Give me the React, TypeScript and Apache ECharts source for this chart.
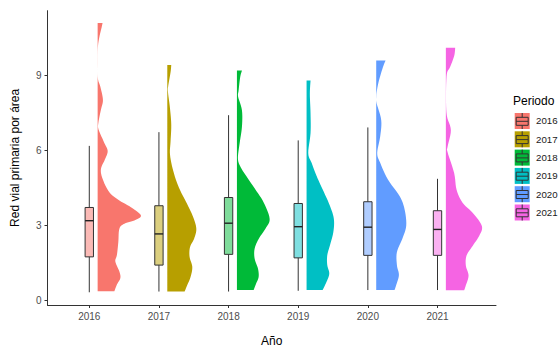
import React, { useEffect, useRef } from "react";
import * as echarts from "echarts";

// Categories and palette
const years = ["2016", "2017", "2018", "2019", "2020", "2021"];
const colors = ["#F8766D", "#B79F00", "#00BA38", "#00BFC4", "#619CFF", "#F564E3"];

// Five-number summaries: [lower whisker, Q1, median, Q3, upper whisker]
const box2016 = [0.31, 1.73, 3.18, 3.71, 6.18];
const box2017 = [0.34, 1.4, 2.65, 3.78, 6.73];
const box2018 = [0.34, 1.83, 3.08, 4.11, 7.41];
const box2019 = [0.37, 1.69, 2.94, 3.87, 6.4];
const box2020 = [0.4, 1.79, 2.92, 3.94, 6.92];
const box2021 = [0.4, 1.79, 2.83, 3.58, 4.86];

// Half-violin density profiles: [value, density as share of one category step]
const dens2016 = [
  [11.11, 0.071], [10.93, 0.057], [10.54, 0.024], [10.14, 0.004], [9.5, 0.001],
  [8.88, 0.004], [8.55, 0.039], [8.02, 0.076], [7.63, 0.047], [7.1, 0.01],
  [6.83, 0.014], [6.3, 0.096], [5.97, 0.144], [5.64, 0.105], [5.25, 0.047],
  [4.85, 0.072], [4.32, 0.168], [3.99, 0.312], [3.72, 0.478], [3.39, 0.622],
  [3.19, 0.527], [3.06, 0.384], [2.86, 0.312], [2.33, 0.297], [1.81, 0.277],
  [1.54, 0.254], [1.14, 0.312], [0.88, 0.326], [0.62, 0.277], [0.35, 0.24],
];
const dens2017 = [
  [9.42, 0.057], [9.13, 0.047], [8.6, 0.014], [8.34, 0.01], [7.68, 0.039],
  [7.02, 0.057], [6.36, 0.047], [5.83, 0.039], [5.17, 0.086], [4.5, 0.168],
  [3.84, 0.287], [3.31, 0.374], [2.85, 0.417], [2.45, 0.384], [2.12, 0.326],
  [1.73, 0.32], [1.33, 0.359], [0.93, 0.335], [0.6, 0.287], [0.34, 0.249],
];
const dens2018 = [
  [9.2, 0.072], [8.94, 0.047], [8.4, 0.024], [8.15, 0.017], [7.61, 0.072],
  [6.95, 0.072], [6.29, 0.039], [5.69, 0.014], [5.36, 0.047], [4.97, 0.134],
  [4.44, 0.263], [3.91, 0.384], [3.25, 0.47], [2.85, 0.407], [2.45, 0.312],
  [2.06, 0.254], [1.66, 0.254], [1.26, 0.302], [0.93, 0.312], [0.67, 0.277],
  [0.4, 0.24],
];
const dens2019 = [
  [8.8, 0.057], [8.27, 0.047], [7.48, 0.057], [6.69, 0.057], [5.89, 0.024],
  [5.5, 0.072], [4.97, 0.144], [4.44, 0.23], [3.78, 0.335], [3.25, 0.392],
  [2.72, 0.384], [2.19, 0.335], [1.79, 0.297], [1.4, 0.297], [1.06, 0.326],
  [0.73, 0.287], [0.4, 0.23],
];
const dens2020 = [
  [9.6, 0.134], [9.33, 0.096], [8.8, 0.039], [8.4, 0.01], [8.15, 0.002],
  [7.88, 0.007], [7.21, 0.072], [6.56, 0.057], [5.89, 0.014], [5.5, 0.057],
  [4.83, 0.168], [4.17, 0.335], [3.64, 0.407], [2.98, 0.431], [2.45, 0.374],
  [1.92, 0.297], [1.4, 0.297], [1.0, 0.326], [0.6, 0.287], [0.4, 0.263],
];
const dens2021 = [
  [10.11, 0.134], [9.78, 0.119], [9.32, 0.057], [9.06, 0.014], [8.2, 0.002],
  [7.4, 0.014], [6.81, 0.072], [6.14, 0.024], [5.93, 0.024], [5.09, 0.119],
  [4.42, 0.154], [3.9, 0.24], [3.5, 0.384], [2.97, 0.517], [2.57, 0.478],
  [2.17, 0.384], [1.78, 0.297], [1.38, 0.287], [0.98, 0.326], [0.59, 0.287],
  [0.39, 0.263],
];

// Y-axis tick values
const yTicks = [0, 3, 6, 9];

const boxes = [box2016, box2017, box2018, box2019, box2020, box2021];
const densities = [dens2016, dens2017, dens2018, dens2019, dens2020, dens2021];

const BOX_HALF = 0.06; // half box width, in category steps
const VIOLIN_OFFSET = 0.12; // gap between category centre and violin base
const FONT = "'Liberation Sans', Arial, sans-serif";

function withAlpha(hex: string, a: number) {
  const n = parseInt(hex.slice(1), 16);
  return `rgba(${(n >> 16) & 255},${(n >> 8) & 255},${n & 255},${a})`;
}

// Catmull-Rom smoothing of a pixel polyline, for drawing only
function smoothLine(pts: number[][], steps = 6) {
  if (pts.length < 3) return pts;
  const out: number[][] = [];
  for (let i = 0; i < pts.length - 1; i++) {
    const p0 = pts[Math.max(0, i - 1)];
    const p1 = pts[i];
    const p2 = pts[i + 1];
    const p3 = pts[Math.min(pts.length - 1, i + 2)];
    for (let s = 0; s < steps; s++) {
      const t = s / steps;
      const t2 = t * t;
      const t3 = t2 * t;
      const f = (a: number, b: number, c: number, d: number) =>
        0.5 * (2 * b + (-a + c) * t + (2 * a - 5 * b + 4 * c - d) * t2 + (-a + 3 * b - 3 * c + d) * t3);
      out.push([f(p0[0], p1[0], p2[0], p3[0]), f(p0[1], p1[1], p2[1], p3[1])]);
    }
  }
  out.push(pts[pts.length - 1]);
  return out;
}

export default function App() {
  const ref = useRef<HTMLDivElement>(null);

  useEffect(() => {
    if (!ref.current) return;
    const chart = echarts.init(ref.current, null, { renderer: "svg" });

    const legendGraphics: any[] = [
      {
        type: "text",
        left: 513,
        top: 95,
        style: { text: "Periodo", fill: "#000", font: `12px ${FONT}` },
      },
    ];
    years.forEach((y, i) => {
      const top = 113 + i * 18.3;
      legendGraphics.push({
        type: "group",
        x: 514.7,
        y: top,
        children: [
          { type: "rect", shape: { x: 0, y: 0, width: 15, height: 16 }, style: { fill: colors[i] } },
          { type: "line", shape: { x1: 7.5, y1: 0, x2: 7.5, y2: 4.3 }, style: { stroke: "#333", lineWidth: 1 } },
          { type: "line", shape: { x1: 7.5, y1: 12.3, x2: 7.5, y2: 16 }, style: { stroke: "#333", lineWidth: 1 } },
          { type: "rect", shape: { x: 1.5, y: 4.3, width: 12, height: 8 }, style: { fill: "none", stroke: "#333", lineWidth: 1 } },
          { type: "line", shape: { x1: 1.5, y1: 8.3, x2: 13.5, y2: 8.3 }, style: { stroke: "#333", lineWidth: 1 } },
        ],
      });
      legendGraphics.push({
        type: "text",
        left: 536,
        top: top + 2.8,
        style: { text: y, fill: "#1a1a1a", font: `9.7px ${FONT}` },
      });
    });

    chart.setOption({
      animation: false,
      grid: { left: 47.5, right: 62, top: 10.7, bottom: 43.7, containLabel: false },
      xAxis: {
        type: "value",
        min: -0.6,
        max: 5.84,
        name: "Año",
        nameLocation: "middle",
        nameGap: 30,
        nameTextStyle: { color: "#000", fontSize: 12, fontFamily: FONT },
        splitLine: { show: false },
        axisLine: { show: true, onZero: false, lineStyle: { color: "#333", width: 1 } },
        axisTick: { show: true, customValues: years.map((_, i) => i), length: 3, lineStyle: { color: "#333" } },
        axisLabel: {
          customValues: years.map((_, i) => i),
          formatter: (v: number) => years[Math.round(v)] ?? "",
          color: "#4D4D4D",
          fontSize: 10,
          fontFamily: FONT,
          margin: 6,
        },
      },
      yAxis: {
        type: "value",
        min: -0.2,
        max: 11.6,
        name: "Red vial primaria por área",
        nameLocation: "middle",
        nameGap: 27,
        nameTextStyle: { color: "#000", fontSize: 12, fontFamily: FONT },
        splitLine: { show: false },
        axisLine: { show: true, onZero: false, lineStyle: { color: "#333", width: 1 } },
        axisTick: { show: true, customValues: yTicks, length: 3, lineStyle: { color: "#333" } },
        axisLabel: {
          customValues: yTicks,
          color: "#4D4D4D",
          fontSize: 10,
          fontFamily: FONT,
          margin: 6,
        },
      },
      series: [
        {
          type: "custom",
          name: "violin",
          data: years.map((_, i) => [i]),
          renderItem: (params: any, api: any) => {
            const i = params.dataIndex;
            const dens = densities[i];
            const unit = api.size([1, 0])[0];
            const base = api.coord([i + VIOLIN_OFFSET, 0])[0];
            const edge = dens.map(([v, d]) => [base + d * unit, api.coord([i, v])[1]]);
            const top = edge[0][1];
            const bottom = edge[edge.length - 1][1];
            const pts = [[base, top], ...smoothLine(edge), [base, bottom]];
            return {
              type: "polygon",
              shape: { points: pts },
              style: { fill: colors[i], stroke: "none" },
            };
          },
          z: 2,
        },
        {
          type: "custom",
          name: "box",
          data: years.map((_, i) => [i]),
          renderItem: (params: any, api: any) => {
            const i = params.dataIndex;
            const [lo, q1, med, q3, hi] = boxes[i];
            const xc = api.coord([i, 0])[0];
            const xl = api.coord([i - BOX_HALF, 0])[0];
            const xr = api.coord([i + BOX_HALF, 0])[0];
            const y = (v: number) => api.coord([i, v])[1];
            const line = { stroke: "#333", lineWidth: 1 };
            return {
              type: "group",
              children: [
                { type: "line", shape: { x1: xc, y1: y(hi), x2: xc, y2: y(q3) }, style: line },
                { type: "line", shape: { x1: xc, y1: y(q1), x2: xc, y2: y(lo) }, style: line },
                {
                  type: "rect",
                  shape: { x: xl, y: y(q3), width: xr - xl, height: y(q1) - y(q3) },
                  style: { fill: withAlpha(colors[i], 0.5), stroke: "#333", lineWidth: 1 },
                },
                { type: "line", shape: { x1: xl, y1: y(med), x2: xr, y2: y(med) }, style: { stroke: "#222", lineWidth: 1.4 } },
              ],
            };
          },
          z: 3,
        },
      ],
      graphic: legendGraphics,
    });

    return () => chart.dispose();
  }, []);

  return <div ref={ref} style={{ width: 558, height: 352, position: "absolute", left: 0, top: 0, background: "#fff" }} />;
}
